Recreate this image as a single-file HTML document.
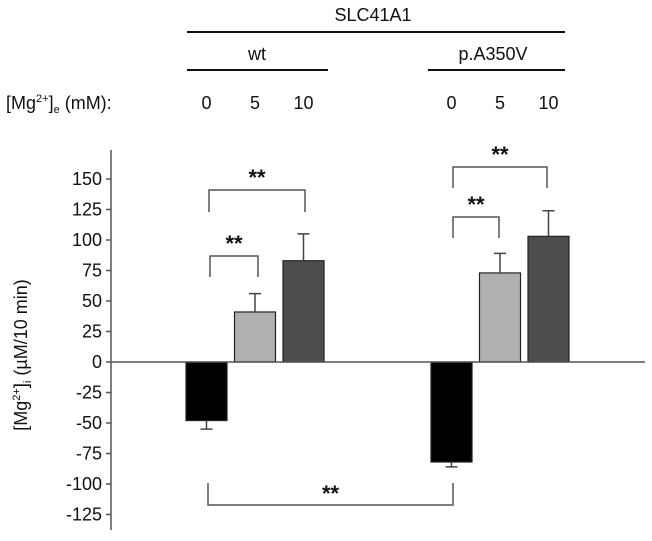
<!DOCTYPE html>
<html><head><meta charset="utf-8"><style>
body{margin:0;background:#fff;}
svg{display:block;font-family:"Liberation Sans",Arial,sans-serif;}
</style></head><body>
<svg id="chart" width="652" height="541">
<g id="hdr" fill="#111" font-size="18">
<text x="373" y="21" text-anchor="middle">SLC41A1</text>
<line x1="187" y1="32" x2="565" y2="32" stroke="#111" stroke-width="2"/>
<text x="257" y="60" text-anchor="middle">wt</text>
<line x1="187" y1="70" x2="328" y2="70" stroke="#111" stroke-width="2"/>
<text x="493" y="60" text-anchor="middle">p.A350V</text>
<line x1="428" y1="70" x2="565" y2="70" stroke="#111" stroke-width="2"/>
<text x="6" y="109">[Mg<tspan font-size="11" dy="-7">2+</tspan><tspan dy="7">]</tspan><tspan font-size="11" dy="4">e</tspan><tspan dy="-4"> (mM):</tspan></text>
</g>
<text transform="translate(27,355) rotate(-90)" text-anchor="middle" font-size="18" fill="#111">[Mg<tspan font-size="11" dy="-7">2+</tspan><tspan dy="7">]</tspan><tspan font-size="11" dy="4">i</tspan><tspan dy="-4"> (µM/10 min)</tspan></text>
<g id="plot"></g>
</svg>
<script>
const groups=["wt","p.A350V"];
const concentrations=["0","5","10"];
const wtValues=[-48,41,83];
const wtErrors=[7,15,22];
const mutValues=[-82,73,103];
const mutErrors=[4,16,21];
const yTicks=[150,125,100,75,50,25,0,-25,-50,-75,-100,-125];
const NS="http://www.w3.org/2000/svg";
const plot=document.getElementById('plot');
const hdr=document.getElementById('hdr');
function y(v){return 362-v*1.22;}
const groupStart=[186,431];
function xBar(g,i){return groupStart[g]+i*48.5;}
const bw=41;
const colors=["#000","#b0b0b0","#4d4d4d"];
function el(tag,attrs,parent){const e=document.createElementNS(NS,tag);for(const k in attrs)e.setAttribute(k,attrs[k]);(parent||plot).appendChild(e);return e;}
let ax=el('line',{x1:111,y1:150,x2:111,y2:530,stroke:'#555','stroke-width':1.5});


yTicks.forEach(t=>{
 let tk=el('line',{x1:106,y1:y(t),x2:111,y2:y(t),stroke:'#555','stroke-width':1.5});
 
 
 let tx=el('text',{x:102,y:y(t)+6,'text-anchor':'end','font-size':18,fill:'#111'});
 tx.textContent=t;
 
 
});
const series=[[wtValues,wtErrors],[mutValues,mutErrors]];
series.forEach((s,g)=>{
 s[0].forEach((v,i)=>{
  const x=xBar(g,i);
  const top=Math.min(y(v),y(0)),h=Math.abs(y(v)-y(0));
  let r=el('rect',{x:x,y:top,width:bw,height:h,fill:colors[i],stroke:'#222','stroke-width':1.2});
  
  
  const cx=x+bw/2, ev=v+(v<0?-s[1][i]:s[1][i]);
  let e=el('path',{d:`M${cx},${y(v)}V${y(ev)}M${cx-6},${y(ev)}H${cx+6}`,stroke:'#444','stroke-width':1.5,fill:'none'});
  
  
  let c=el('text',{x:cx,y:109,'text-anchor':'middle','font-size':18,fill:'#111'},hdr);
  c.textContent=concentrations[i];
  
  
 });
});
let z=el('line',{x1:111,y1:y(0),x2:645,y2:y(0),stroke:'#555','stroke-width':1.5});


function bracket(x1,x2,yt,yb,sy){
 let p=el('path',{d:`M${x1},${yb}V${yt}H${x2}V${yb}`,stroke:'#555','stroke-width':1.5,fill:'none'});
 
 
 let t=el('text',{x:(x1+x2)/2,y:sy,'text-anchor':'middle','font-size':22,'font-weight':'bold',fill:'#111'});
 t.textContent='**';
 
 
}
bracket(210,258,256,277,251);
bracket(209,305,190,212,185);
bracket(453,499,217,238,212);
bracket(453,547,167,188,162);
bracket(208,453,505,483,501);
</script>
</body></html>
